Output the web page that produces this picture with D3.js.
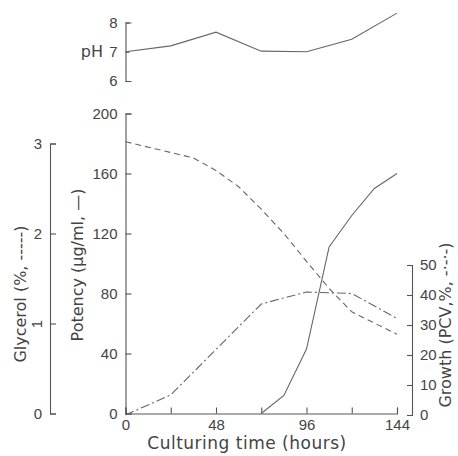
<!DOCTYPE html>
<html>
<head>
<meta charset="utf-8">
<script src="https://cdn.jsdelivr.net/npm/d3@7"></script>
<style>
  body { margin: 0; background: #fff; }
  svg { font-family: "DejaVu Sans", sans-serif; }
  .axis path, .axis line { stroke: #555; stroke-width: 1.1; fill: none; }
  .axis text { fill: #444; font-size: 15px; }
</style>
</head>
<body>
<script>
// data
const hours = [0, 24, 48, 72, 96, 120, 144];
const phValues = [7.0, 7.2, 7.67, 7.02, 7.0, 7.43, 8.32];

const potencyHours = [72, 84, 96, 108, 120, 132, 144];
const potencyValues = [0, 12, 43, 111, 132, 150, 160];

const glycerolHours = [0, 36, 48, 60, 72, 84, 96, 108, 120, 144];
const glycerolValues = [3.02, 2.84, 2.70, 2.52, 2.27, 2.0, 1.69, 1.39, 1.13, 0.88];

const growthHours = [0, 24, 72, 96, 120, 144];
const growthValues = [0, 6.7, 37, 41, 40.5, 32.2];

const xTicks = [0, 24, 48, 72, 96, 120, 144];
const xTickLabels = [0, 48, 96, 144];

const width = 458, height = 456;

const svg = d3.select('body').append('svg')
    .attr('width', width)
    .attr('height', height);

const x = d3.scaleLinear().domain([0, 144]).range([125.5, 397]);
const yPh = d3.scaleLinear().domain([6, 8]).range([81, 22.5]);
const yPot = d3.scaleLinear().domain([0, 200]).range([413.5, 113.5]);
const yGly = d3.scaleLinear().domain([0, 3]).range([413.5, 143.5]);
const yGro = d3.scaleLinear().domain([0, 50]).range([415, 265]);

const fmt = d3.format('d');

// x axis
svg.append('g').attr('class', 'axis')
    .attr('transform', `translate(0,${yPot(0)})`)
    .call(d3.axisBottom(x).tickValues(xTicks).tickSizeInner(-6).tickSizeOuter(-6).tickPadding(6)
        .tickFormat(d => xTickLabels.includes(d) ? d : ''));

// potency axis
svg.append('g').attr('class', 'axis')
    .attr('transform', `translate(${x(0)},0)`)
    .call(d3.axisLeft(yPot).tickValues([0, 40, 80, 120, 160, 200]).tickSizeInner(-6).tickSizeOuter(-6).tickPadding(8));

// pH axis
svg.append('g').attr('class', 'axis')
    .attr('transform', `translate(${x(0)},0)`)
    .call(d3.axisLeft(yPh).tickValues([6, 7, 8]).tickFormat(fmt).tickSizeInner(-4).tickSizeOuter(-6).tickPadding(8));

// glycerol axis
const gGly = svg.append('g').attr('class', 'axis')
    .attr('transform', 'translate(50,0)')
    .call(d3.axisLeft(yGly).tickValues([0, 1, 2, 3]).tickFormat(fmt).tickSizeInner(-6).tickSizeOuter(-6).tickPadding(8));
gGly.selectAll('.tick').filter(d => d === 1).select('text')
    .attr('transform', 'translate(-13,0) rotate(-90)')
    .attr('x', 0).attr('text-anchor', 'middle').attr('dy', '0.35em');

// growth axis
svg.append('g').attr('class', 'axis')
    .attr('transform', 'translate(412,0)')
    .call(d3.axisRight(yGro).tickValues([0, 10, 20, 30, 40, 50]).tickSizeInner(-5).tickSizeOuter(-5).tickPadding(8));

// axis titles
svg.append('text').attr('x', 103).attr('y', yPh(7)).attr('dy', '0.35em')
    .attr('text-anchor', 'end').attr('fill', '#444').style('font-size', '16px').text('pH');

svg.append('text').attr('x', 247).attr('y', 449)
    .attr('text-anchor', 'middle').attr('fill', '#444').style('font-size', '17px').style('letter-spacing', '0.5px')
    .text('Culturing time (hours)');

svg.append('text').attr('transform', 'translate(83,265) rotate(-90)')
    .attr('text-anchor', 'middle').attr('fill', '#444').style('font-size', '16px')
    .text('Potency (\u00b5g/ml, \u2014)');

svg.append('text').attr('transform', 'translate(26,294) rotate(-90)')
    .attr('text-anchor', 'middle').attr('fill', '#444').style('font-size', '16px')
    .text('Glycerol (%, -----)');

svg.append('text').attr('transform', 'translate(451,325) rotate(-90)')
    .attr('text-anchor', 'middle').attr('fill', '#444').style('font-size', '16px')
    .text('Growth (PCV,%, -\u00b7-\u00b7-)');

// lines
const lineColor = '#666';
function drawLine(xs, ys, yScale, dash) {
    const pts = xs.map((h, i) => [h, ys[i]]);
    svg.append('path')
        .datum(pts)
        .attr('fill', 'none')
        .attr('stroke', lineColor)
        .attr('stroke-width', 1.1)
        .attr('stroke-dasharray', dash)
        .attr('d', d3.line().x(d => x(d[0])).y(d => yScale(d[1])));
}

drawLine(hours, phValues, yPh, null);
drawLine(potencyHours, potencyValues, yPot, null);
drawLine(glycerolHours, glycerolValues, yGly, '6,4');
drawLine(growthHours, growthValues, yGro, '9,3,2,3');
</script>
</body>
</html>
